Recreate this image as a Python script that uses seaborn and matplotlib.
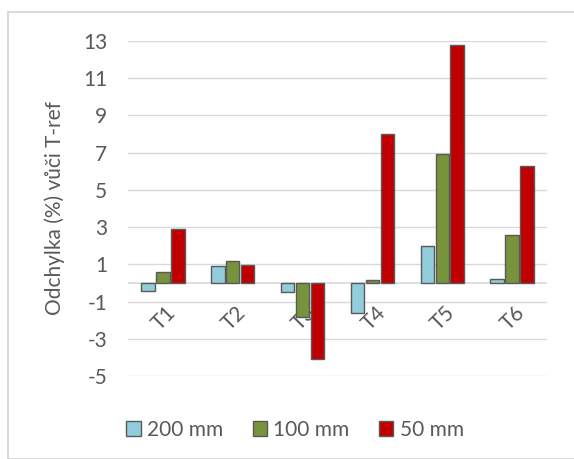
import matplotlib
matplotlib.use("Agg")
import matplotlib.pyplot as plt
import seaborn as sns
import pandas as pd
from matplotlib.patches import Rectangle, Patch

categories = ["T1", "T2", "T3", "T4", "T5", "T6"]
series_names = ["200 mm", "100 mm", "50 mm"]
vals_200 = [-0.45, 0.9, -0.5, -1.6, 2.0, 0.2]
vals_100 = [0.6, 1.18, -1.82, 0.14, 6.95, 2.6]
vals_50 = [2.9, 0.96, -4.1, 7.98, 12.8, 6.27]
y_ticks = [13, 11, 9, 7, 5, 3, 1, -1, -3, -5]
colors = ["#92CDDC", "#77933C", "#C00000"]

rows = []
for name, vals in zip(series_names, [vals_200, vals_100, vals_50]):
    for c, v in zip(categories, vals):
        rows.append({"cat": c, "series": name, "val": v})
df = pd.DataFrame(rows)

sns.set_theme(style="white")
plt.rcParams["font.family"] = ["Lato", "DejaVu Sans"]
txt = "#595959"
fs = 15

fig = plt.figure(figsize=(5.74, 4.59), dpi=100)
ax = fig.add_axes([128/574, 1-376/459, 419/574, 335/459])

sns.barplot(data=df, x="cat", y="val", hue="series", order=categories,
            hue_order=series_names, palette=colors, saturation=1, width=0.64, gap=0.1,
            edgecolor="#595959", linewidth=1.0, ax=ax, legend=False, zorder=3)

ax.set_ylim(-5, 13)
ax.set_xlim(-0.5, 5.5)
ax.set_yticks(y_ticks)
ax.set_yticklabels([str(t) for t in y_ticks], fontsize=fs, color=txt)
ax.tick_params(axis="y", length=0, pad=15)
for t in y_ticks:
    ax.axhline(t, color="#D9D9D9", lw=1.0, zorder=0)
ax.axhline(0, color="#D9D9D9", lw=1.2, zorder=2)
for s in ax.spines.values():
    s.set_visible(False)
ax.set_xticks([])
ax.set_xlabel("")
ax.set_ylabel("")
ax.grid(False)

for i, c in enumerate(categories):
    ax.annotate(c, xy=(i, 0), xycoords="data", xytext=(2, -14),
                textcoords="offset points", rotation=45, ha="right", va="top",
                rotation_mode="anchor", fontsize=fs, color=txt, zorder=1)

fig.text(55/574, 1-208/459, "Odchylka (%) vůči T-ref", rotation=90,
         ha="center", va="center", fontsize=fs, color=txt)

handles = [Patch(facecolor=col, edgecolor="#595959", lw=1.0) for col in colors]
fig.legend(handles, series_names, loc="center", bbox_to_anchor=(295/574, 1-430/459),
           ncol=3, frameon=False, fontsize=fs, labelcolor=txt,
           handlelength=0.7, handleheight=0.7, handletextpad=0.3, columnspacing=1.4)

fig.patches.append(Rectangle((7.5/574, 0), 1.2, 1-12/459, transform=fig.transFigure,
                             fill=False, edgecolor="#D9D9D9", lw=1.5))

fig.savefig("out.png", dpi=100, facecolor="white")
